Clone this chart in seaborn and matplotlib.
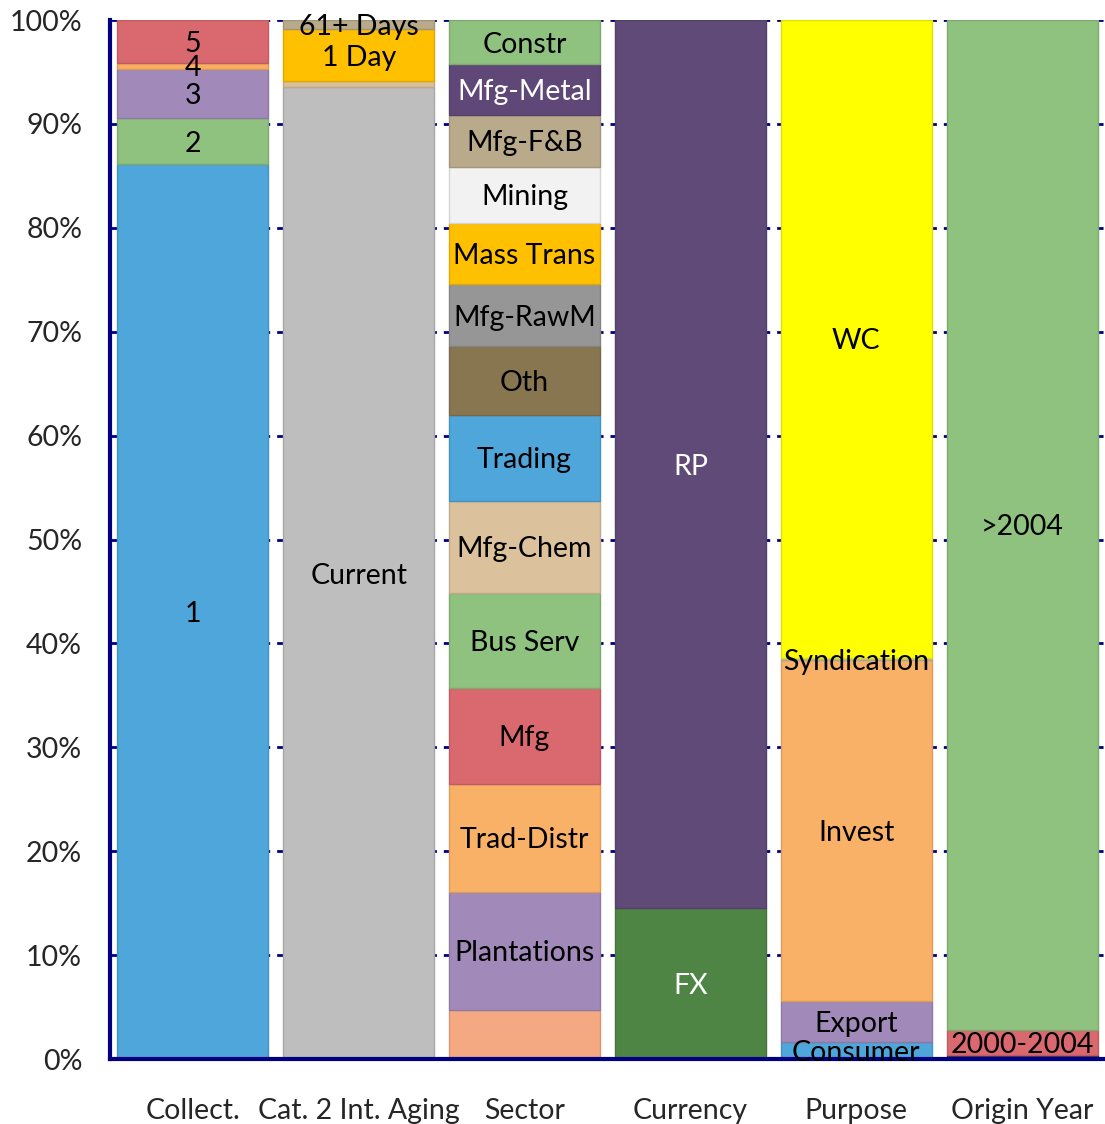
import numpy as np
import matplotlib
matplotlib.use('Agg')
import matplotlib.pyplot as plt
import matplotlib.colors as mcolors
import seaborn as sns

groups = ['Collect.', 'Cat. 2 Int. Aging', 'Sector', 'Currency', 'Purpose', 'Origin Year']

# segments listed bottom -> top, values in %
collect_labels = ['1', '2', '3', '4', '5']
collect_values = [86.1, 4.5, 4.7, 0.6, 4.1]
collect_colors = ['#4FA6DA', '#8FC17F', '#A189B9', '#F9AE63', '#D9696F']

aging_labels = ['Current', '', '1 Day', '61+ Days']
aging_values = [93.55, 0.55, 5.0, 0.9]
aging_colors = ['#BEBEBE', '#D9BF9A', '#FFC000', '#B8AA8B']

sector_labels = ['', 'Plantations', 'Trad-Distr', 'Mfg', 'Bus Serv', 'Mfg-Chem', 'Trading',
                 'Oth', 'Mfg-RawM', 'Mass Trans', 'Mining', 'Mfg-F&B', 'Mfg-Metal', 'Constr']
sector_values = [4.7, 11.4, 10.4, 9.2, 9.15, 8.9, 8.2, 6.7, 5.9, 5.9, 5.45, 4.95, 4.9, 4.25]
sector_colors = ['#F4A983', '#A189B9', '#F9B168', '#D9696F', '#8FC17F', '#DBC19C', '#4FA6DA',
                 '#877650', '#969696', '#FFC000', '#F2F2F2', '#B9AA8B', '#5F4877', '#8FC17F']

currency_labels = ['FX', 'RP']
currency_values = [14.5, 85.5]
currency_colors = ['#4E8544', '#604A78']

purpose_labels = ['Consumer', 'Export', 'Invest', 'Syndication', 'WC']
purpose_values = [1.6, 4.0, 32.8, 0.2, 61.4]
purpose_colors = ['#4FA6DA', '#A189B9', '#F9B168', '#BEBEBE', '#FFFF00']

origin_labels = ['', '2000-2004', '>2004']
origin_values = [0.4, 2.4, 97.2]
origin_colors = ['#3F3151', '#D9696F', '#8FC17F']

white_text = {'Mfg-Metal', 'RP', 'FX'}

stacks = [
    (collect_labels, collect_values, collect_colors),
    (aging_labels, aging_values, aging_colors),
    (sector_labels, sector_values, sector_colors),
    (currency_labels, currency_values, currency_colors),
    (purpose_labels, purpose_values, purpose_colors),
    (origin_labels, origin_values, origin_colors),
]

sns.set_style('white')
plt.rcParams['font.family'] = ['Lato', 'DejaVu Sans']

navy = '#000080'
fig = plt.figure(figsize=(11.05, 11.24), dpi=100)
ax = fig.add_axes([0.0995, 0.0578, 0.9005, 0.9244])


def darker(c, f=0.88):
    r, g, b = mcolors.to_rgb(c)
    return (r * f, g * f, b * f)


for i, (labels, values, colors) in enumerate(stacks):
    vals = np.array(values, dtype=float)
    vals = vals / vals.sum() * 100
    bottom = 0.0
    for lab, v, c in zip(labels, vals, colors):
        ax.bar(i, v, bottom=bottom, width=0.91, color=c, edgecolor=darker(c),
               linewidth=1.0, zorder=2)
        if lab:
            ax.text(i, bottom + v / 2, lab, ha='center', va='center_baseline', fontsize=20.5,
                    color='white' if lab in white_text else 'black', zorder=3)
        bottom += v

ax.set_xlim(-0.5, 5.5)
ax.set_ylim(0, 100)
ax.set_yticks(np.arange(0, 101, 10))
ax.set_yticklabels([f'{t}%' for t in range(0, 101, 10)], fontsize=20.5)
ax.set_xticks(range(len(groups)))
ax.set_xticklabels(groups, fontsize=20.5)
ax.set_xticks(np.arange(-0.5, 6, 1), minor=True)
ax.tick_params(axis='x', which='major', length=0, pad=28)
ax.tick_params(axis='x', which='minor', length=9, width=2.5, color=navy, direction='out')
ax.tick_params(axis='y', which='major', length=12, width=2, color=navy, direction='inout', pad=14)

ax.yaxis.grid(True, linestyle=(0, (3.5, 2.5)), color=navy, linewidth=2)
ax.xaxis.grid(False)
ax.set_axisbelow(True)

for s in ['top', 'right']:
    ax.spines[s].set_visible(False)
for s in ['left', 'bottom']:
    ax.spines[s].set_color(navy)
    ax.spines[s].set_linewidth(3)

fig.savefig('out.png', dpi=100)
